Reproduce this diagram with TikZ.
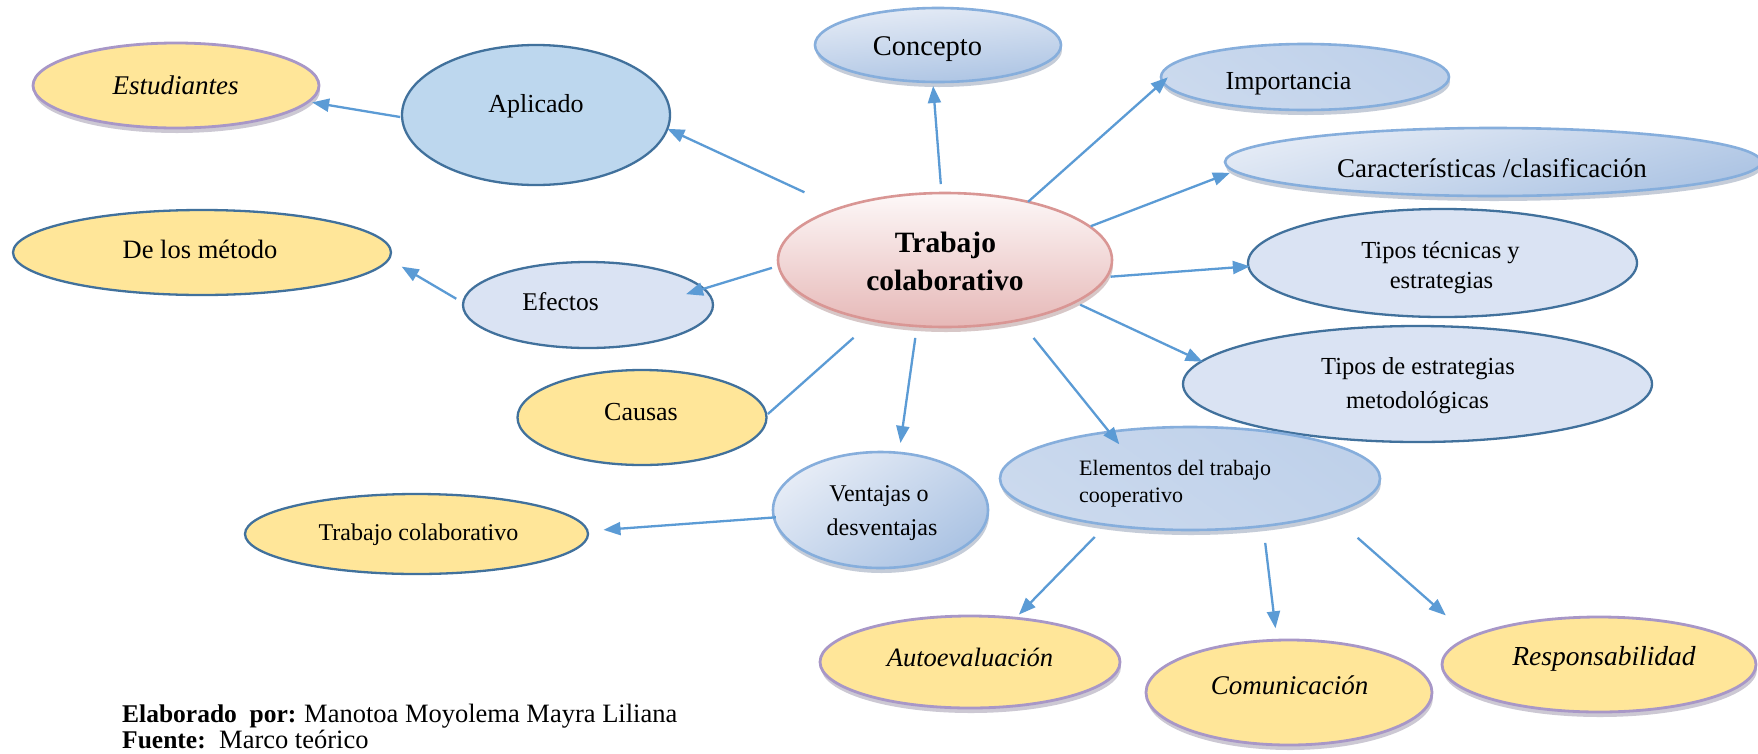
\documentclass[tikz,border=0pt]{standalone}
\usepackage{fontspec}
\setmainfont{Liberation Serif}
\usetikzlibrary{shapes.geometric,arrows.meta,shadows}
\definecolor{arrowc}{HTML}{5B9BD5}
\definecolor{dkb}{HTML}{41719C}
\definecolor{aplfill}{HTML}{BDD7EE}
\definecolor{ltb}{HTML}{DAE3F3}
\definecolor{yel}{HTML}{FFE699}
\definecolor{purp}{HTML}{A897C7}
\definecolor{gbord}{HTML}{86AEDC}
\definecolor{gdark}{HTML}{ABC3E3}
\definecolor{gmid}{HTML}{BFD1EA}
\definecolor{glight}{HTML}{E6ECF6}
\definecolor{tcb}{HTML}{D99694}
\definecolor{tctop}{HTML}{FDF8F8}
\definecolor{tcbot}{HTML}{E6B8B7}
\definecolor{shblue}{HTML}{7F8FA9}
\definecolor{shpurp}{HTML}{8E869E}
\definecolor{shred}{HTML}{A78585}
\newcommand\myfs[1]{\fontsize{#1}{#1}\selectfont}
\tikzset{
  ell/.style={ellipse, inner sep=0pt, outer sep=0pt, line width=2.3pt},
  ydb/.style={ell, draw=dkb, fill=yel},
  ypu/.style={ell, draw=purp, line width=2.8pt, fill=yel,
    drop shadow={shadow xshift=1pt, shadow yshift=-5pt, fill=shpurp, opacity=0.45}},
  bdb/.style={ell, draw=dkb, fill=ltb},
  gradA/.style={ell, draw=gbord, line width=2.6pt, top color=glight, bottom color=gdark, shading angle=#1,
    drop shadow={shadow xshift=1pt, shadow yshift=-5pt, fill=shblue, opacity=0.45}},
  gradA/.default=30,
  gradB/.style={ell, draw=gbord, line width=2.6pt, top color=gmid, middle color=glight, bottom color=gmid!70!glight, shading angle=-35,
    drop shadow={shadow xshift=1pt, shadow yshift=-5pt, fill=shblue, opacity=0.45}},
  tcsty/.style={ell, draw=tcb, line width=2.6pt, top color=tctop, bottom color=tcbot,
    drop shadow={shadow xshift=1pt, shadow yshift=-5pt, fill=shred, opacity=0.45}},
  arr/.style={draw=arrowc, line width=2.3pt, -{Triangle[length=17pt,width=13pt]}},
  conn/.style={draw=arrowc, line width=2.3pt},
  txt/.style={inner sep=0pt, anchor=base},
  txtl/.style={inner sep=0pt, anchor=base west}
}
\begin{document}
\begin{tikzpicture}[x=1pt,y=-1pt]
\useasboundingbox (0,0) rectangle (1758,753);
\clip (0,0) rectangle (1758,753);
\fill[white] (0,0) rectangle (1758,753);

% ellipses
\node[tcsty, minimum width=334pt, minimum height=134pt] (tc) at (945,260) {};
\node[ypu, minimum width=286pt, minimum height=85pt] (est) at (176,85.5) {};
\node[ell, draw=dkb, fill=aplfill, minimum width=268pt, minimum height=140pt] (apl) at (536,115) {};
\node[gradA=5, minimum width=246pt, minimum height=74pt] (con) at (938,45) {};
\node[gradB, minimum width=288pt, minimum height=66pt] (imp) at (1305,77) {};
\node[gradA=15, minimum width=536pt, minimum height=68pt] (car) at (1493,162) {};
\node[bdb, minimum width=389pt, minimum height=108pt] (tte) at (1442.5,263) {};
\node[bdb, minimum width=469pt, minimum height=116pt] (tes) at (1417.5,384) {};
\node[gradB, minimum width=380pt, minimum height=103pt] (ele) at (1190,478.5) {};
\node[ydb, minimum width=378pt, minimum height=85pt] (dlm) at (202,252.5) {};
\node[bdb, minimum width=250pt, minimum height=86pt] (efe) at (588,305) {};
\node[ydb, minimum width=249pt, minimum height=95pt] (cau) at (642,417.5) {};
\node[gradA=35, minimum width=215pt, minimum height=116pt] (ven) at (880.5,510) {};
\node[ydb, minimum width=343pt, minimum height=80pt] (tcy) at (416.5,534) {};
\node[ypu, minimum width=300pt, minimum height=92pt] (aut) at (970,662) {};
\node[ypu, minimum width=286pt, minimum height=105pt] (com) at (1289,692.5) {};
\node[ypu, minimum width=314pt, minimum height=95pt] (res) at (1599,664.5) {};

% texts
\node[txt] (tcT1) at (945.5,252) {\myfs{29.5}\bfseries Trabajo};
\node[txt] (tcT2) at (945,290) {\myfs{29.5}\bfseries colaborativo};
\node[txt] (estT) at (175.5,94.5) {\myfs{27}\itshape Estudiantes};
\node[txt] (aplT) at (536,112) {\myfs{26}Aplicado};
\node[txt] (conT) at (927.5,55) {\myfs{28.5}Concepto};
\node[txt] (impT) at (1288.5,89.5) {\myfs{26}Importancia};
\node[txt] (carT) at (1492,177) {\myfs{27}Características /clasificación};
\node[txt] (tteT1) at (1440.5,258) {\myfs{24.5}Tipos técnicas y};
\node[txt] (tteT2) at (1441.5,288) {\myfs{24.5}estrategias};
\node[txt] (tesT1) at (1418,374) {\myfs{24.5}Tipos de estrategias};
\node[txt] (tesT2) at (1417.5,408) {\myfs{24.5}metodológicas};
\node[txtl] (eleT1) at (1079,475) {\myfs{22}Elementos del trabajo};
\node[txtl] (eleT2) at (1079,502) {\myfs{22}cooperativo};
\node[txt] (dlmT) at (200,258) {\myfs{26.5}De los método};
\node[txt] (efeT) at (560.5,310) {\myfs{25.5}Efectos};
\node[txt] (cauT) at (641,420) {\myfs{26}Causas};
\node[txt] (venT1) at (879,501.5) {\myfs{24}Ventajas o};
\node[txt] (venT2) at (882,535) {\myfs{24}desventajas};
\node[txt] (tcyT) at (418.5,540) {\myfs{24}Trabajo colaborativo};
\node[txt] (autT) at (970,666) {\myfs{26.5}\itshape Autoevaluación};
\node[txt] (comT) at (1289.5,694) {\myfs{27}\itshape Comunicación};
\node[txt] (resT) at (1604,665.5) {\myfs{27.5}\itshape Responsabilidad};

% footer
\node[txtl] (f1a) at (122,722) {\myfs{25.5}\bfseries Elaborado\ \ por:};
\node[txtl] (f1b) at (304,722) {\myfs{26.5}Manotoa Moyolema Mayra Liliana};
\node[txtl] (f2a) at (122,748) {\myfs{25.5}\bfseries Fuente:};
\node[txtl] (f2b) at (219,748) {\myfs{26.5}Marco teórico};

% connectors
\draw[arr, shorten <=38pt] (tc.154) -- (apl.354);
\draw[arr, shorten <=2pt, shorten >=4pt] (apl.181) -- (est.353);
\draw[arr, shorten <=9pt, shorten >=4pt] (tc.93) -- (con.262);
\draw[arr, shorten >=-7pt] (tc.35) -- (imp.182);
\draw[arr, shorten <=1pt, shorten >=5pt] (tc.13) -- (car.182);
\draw[arr, shorten <=4pt, shorten >=-1.5pt] (tc.354) -- (tte.181);
\draw[arr, shorten <=6pt, shorten >=-1pt] (tc.342) -- (tes.174);
\draw[arr, shorten <=23pt, shorten >=-16pt] (tc.321) -- (ele.150);
\draw[arr, shorten <=12pt, shorten >=10pt] (tc.247) -- (ven.72);
\draw[conn, shorten <=26pt, shorten >=2pt] (tc.220) -- (cau.1);
\draw[arr, shorten <=7pt, shorten >=-18.5pt] (tc.182) -- (efe.8);
\draw[arr, shorten <=8pt, shorten >=15pt] (efe.179) -- (dlm.358);
\draw[arr, shorten <=-2pt, shorten >=16pt] (ven.184) -- (tcy.1);
\draw[arr, shorten <=17pt, shorten >=5pt] (ele.209) -- (aut.44);
\draw[arr, shorten <=17pt, shorten >=12pt] (ele.327) -- (com.103);
\draw[arr, shorten <=37pt, shorten >=33pt] (ele.346) -- (res.168);
\end{tikzpicture}
\end{document}
